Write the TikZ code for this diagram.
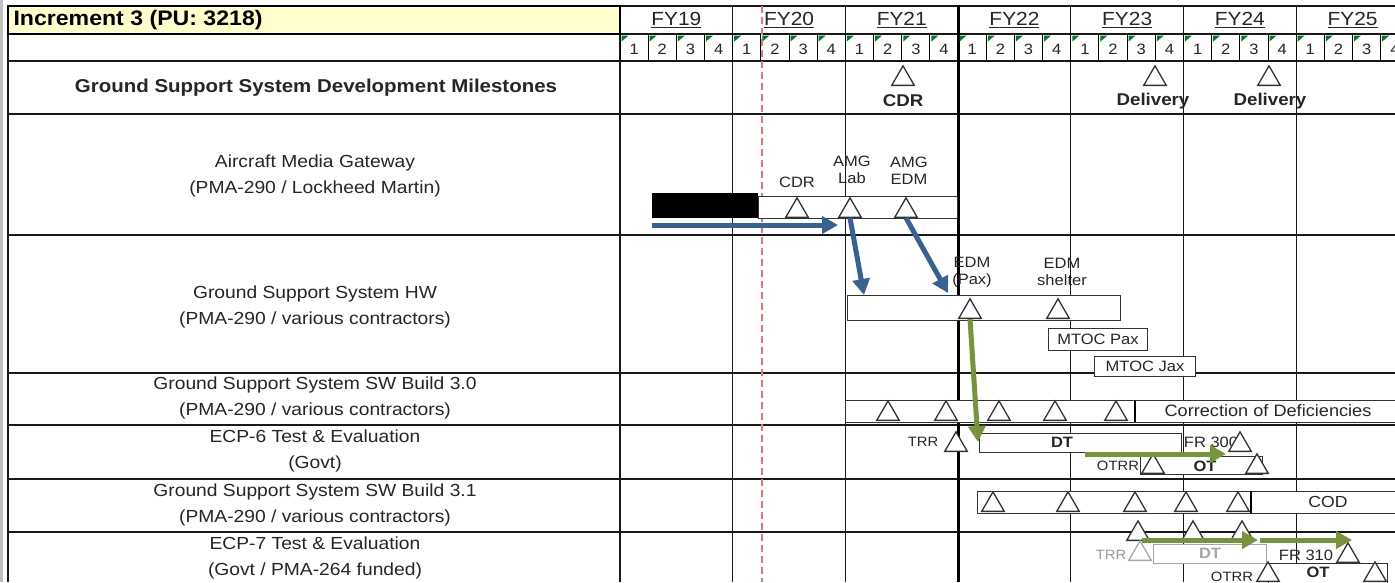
\documentclass[tikz,border=0pt]{standalone}
\usepackage{fontspec}
\setmainfont{Liberation Sans}[FakeStretch=1.1]
\usepackage{tikz}
\usetikzlibrary{arrows.meta,shapes.geometric}
\definecolor{hdrfill}{RGB}{255,255,204}
\definecolor{flowblue}{RGB}{56,98,148}
\definecolor{flowgreen}{RGB}{119,147,60}
\definecolor{today}{RGB}{232,118,118}
\definecolor{qgreen}{RGB}{0,122,40}
\definecolor{ink}{RGB}{38,38,38}

\begin{document}
\begin{tikzpicture}[x=1pt, y=-1pt,
    grid/.style={line width=1.3pt, black!90},
    ms/.style={regular polygon, regular polygon sides=3, draw=black!80, line width=1.3pt,
      fill=white, minimum size=26pt, inner sep=0pt, anchor=south},
    bar/.style={draw=black!80, line width=1.2pt, fill=white, anchor=north west, inner sep=0pt},
    lbl/.style={font=\fontsize{17.5}{26}\selectfont, text=ink, align=center},
    tag/.style={font=\fontsize{15}{17}\selectfont, text=ink, align=center, inner sep=0pt},
    bold/.style={font=\bfseries\fontsize{15}{17}\selectfont, text=ink, inner sep=0pt},
    bluearrow/.style={flowblue, line width=5pt, -{Triangle[length=16pt,width=17pt]}},
    greenarrow/.style={flowgreen, line width=5pt, -{Triangle[length=16pt,width=17pt]}}]
  \useasboundingbox (0,0) rectangle (1395,582);
  \fill[white] (0,0) rectangle (1395,582);
  \fill[black!25] (0,0) rectangle (3,582);

  % table grid
  \draw[grid] (620,6) -- (1400,6);
  \draw[grid] (620,34) -- (1400,34);
  \foreach \r in {61,114,235,373,425,479,532}
    \draw[grid] (8,\r) -- (1400,\r);
  \draw[grid] (8,6) -- (8,582);
  \draw[grid] (620,6) -- (620,582);
  \foreach \k in {1,2,4,5,6}
    \draw[grid] (620+112.7*\k,6) -- (620+112.7*\k,582);
  \draw[line width=3pt] (958,6) -- (958,582);
  \draw[line width=2.5pt, fill=hdrfill] (8,6) rectangle (620,34);
  \node[anchor=west, font=\bfseries\fontsize{21}{24}\selectfont] (incr) at (10,20) {Increment 3 (PU: 3218)};

  % fiscal years and quarters
  \foreach \k [count=\i from 0] in {19,...,25}
    \node[font=\fontsize{19}{22}\selectfont, text=ink] (fy\k) at (676.35+112.7*\i,20) {\underline{FY\k}};
  \foreach \q in {0,...,27} {
    \pgfmathtruncatemacro\qn{mod(\q,4)+1}
    \draw[line width=1pt] (620+28.175*\q,34) -- (620+28.175*\q,61);
    \fill[qgreen] (621.5+28.175*\q,35.5) -- ++(7,0) -- ++(-7,6) -- cycle;
    \node[font=\fontsize{15}{17}\selectfont, text=ink] (q\q) at (634.1+28.175*\q,49) {\qn};
  }
  \draw[today, line width=2pt, dash pattern=on 7pt off 4pt] (762,6) -- (762,582);

  % row labels
  \node[font=\bfseries\fontsize{18.6}{22}\selectfont, text=ink] (hdrMS) at (316,88) {Ground Support System Development Milestones};
  \node[lbl] (lblAMG) at (315,176) {Aircraft Media Gateway\\(PMA-290 / Lockheed Martin)};
  \node[lbl] (lblHW) at (315,307) {Ground Support System HW\\(PMA-290 / various contractors)};
  \node[lbl] (lblSW30) at (315,398) {Ground Support System SW Build 3.0\\(PMA-290 / various contractors)};
  \node[lbl] (lblECP6) at (315,451) {ECP-6 Test \& Evaluation\\(Govt)};
  \node[lbl] (lblSW31) at (315,505) {Ground Support System SW Build 3.1\\(PMA-290 / various contractors)};
  \node[lbl] (lblECP7) at (315,558) {ECP-7 Test \& Evaluation\\(Govt / PMA-264 funded)};

  % development milestones
  \node[ms] (msCDR) at (903,86) {};
  \node[ms] (msDel1) at (1155,86) {};
  \node[ms] (msDel2) at (1269,86) {};
  \node[bold, font=\bfseries\fontsize{17}{20}\selectfont] (tCDR) at (903,101) {CDR};
  \node[bold, font=\bfseries\fontsize{17}{20}\selectfont] (tDel1) at (1153,101) {Delivery};
  \node[bold, font=\bfseries\fontsize{17}{20}\selectfont] (tDel2) at (1270,101) {Delivery};

  % aircraft media gateway
  \fill[black] (652,193) rectangle (758,218);
  \node[bar, minimum width=199pt, minimum height=22pt] (amgBar) at (758,196) {};
  \node[ms] (amgCDR) at (797,218) {};
  \node[ms] (amgLab) at (850,218) {};
  \node[ms] (amgEDM) at (906,218) {};
  \node[tag] (tAmgCDR) at (797,182) {CDR};
  \node[tag] (tAmgLab) at (852,170) {AMG\\Lab};
  \node[tag] (tAmgEDM) at (909,171) {AMG\\EDM};

  % ground support hardware
  \node[bar, minimum width=273pt, minimum height=25pt] (hwBar) at (847,295) {};
  \node[ms] (hwPax) at (970,319) {};
  \node[ms] (hwShelter) at (1058,319) {};
  \node[tag] (tHwPax) at (972,272) {EDM\\(Pax)};
  \node[tag] (tHwShelter) at (1062,272) {EDM\\shelter};
  \node[tag, draw=black!80, line width=1pt, fill=white, minimum width=99pt, minimum height=22pt] (mtocPax) at (1098,339) {MTOC Pax};
  \node[tag, draw=black!80, line width=1pt, fill=white, minimum width=101pt, minimum height=20pt] (mtocJax) at (1145,366) {MTOC Jax};

  % software build 3.0
  \node[bar, minimum width=560pt, minimum height=22pt] (sw30Bar) at (845,400) {};
  \draw[line width=2.5pt] (1135,400) -- (1135,422);
  \foreach \x [count=\i] in {888,946,999,1055,1116}
    \node[ms] (sw30m\i) at (\x,421) {};
  \node[tag, font=\fontsize{16.5}{19}\selectfont] (tCoD) at (1268,411) {Correction of Deficiencies};

  % ECP-6 test and evaluation
  \node[bar, minimum width=202pt, minimum height=19pt] (dt6Bar) at (979,433) {};
  \node[ms] (trr6) at (956,452) {};
  \node[tag, font=\fontsize{13.5}{15}\selectfont] (tTrr6) at (923,442) {TRR};
  \node[bold] (tDt6) at (1062,442) {DT};
  \node[tag, font=\fontsize{15}{17}\selectfont] (tFr300) at (1211,442) {FR 300};
  \node[ms] (fr300) at (1240,452) {};
  \node[bar, minimum width=122pt, minimum height=18pt] (ot6Bar) at (1140,456) {};
  \node[ms] (otrr6) at (1153,474) {};
  \node[ms] (ot6End) at (1257,474) {};
  \node[tag, font=\fontsize{13.5}{15}\selectfont] (tOtrr6) at (1118,466) {OTRR};
  \node[bold] (tOt6) at (1205,466) {OT};

  % software build 3.1
  \node[bar, minimum width=428pt, minimum height=22pt] (sw31Bar) at (977,491) {};
  \draw[line width=2.5pt] (1251,491) -- (1251,513);
  \foreach \x [count=\i] in {993,1068,1135,1186,1238}
    \node[ms] (sw31m\i) at (\x,512) {};
  \node[tag, font=\fontsize{16}{19}\selectfont] (tCOD) at (1328,502) {COD};

  % ECP-7 test and evaluation
  \foreach \x [count=\i] in {1138,1193,1242}
    \node[ms] (ecp7m\i) at (\x,541) {};
  \node[bar, draw=black!35, minimum width=113pt, minimum height=19pt] (dt7Bar) at (1153,544) {};
  \node[ms, draw=black!35] (trr7) at (1140,561) {};
  \node[tag, font=\fontsize{13.5}{15}\selectfont, text=black!40] (tTrr7) at (1111,555) {TRR};
  \node[bold, text=black!35] (tDt7) at (1210,553) {DT};
  \node[tag, font=\fontsize{15}{17}\selectfont] (tFr310) at (1306,555) {FR 310};
  \node[ms] (fr310) at (1348,563) {};
  \node[bar, minimum width=119pt, minimum height=30pt] (ot7Bar) at (1268,563) {};
  \node[ms] (otrr7) at (1268,582) {};
  \node[ms] (ot7End) at (1375,582) {};
  \node[tag, font=\fontsize{13.5}{15}\selectfont] (tOtrr7) at (1232,577) {OTRR};
  \node[bold] (tOt7) at (1318,572) {OT};

  % hand-offs
  \coordinate (amgFrom) at (652,225);
  \coordinate (amgTo) at (838,225);
  \coordinate (hwIn1) at (864,295);
  \coordinate (hwIn2) at (948,293);
  \coordinate (dtIn) at (978,442);
  \coordinate (ot6From) at (1085,454);
  \coordinate (ot6To) at (1226,454);
  \coordinate (dt7From) at (1142,540);
  \coordinate (dt7To) at (1258,540);
  \coordinate (ot7From) at (1260,540);
  \coordinate (ot7To) at (1352,540);
  \draw[bluearrow] (amgFrom) -- (amgTo);
  \draw[bluearrow] (amgLab.south) -- (hwIn1);
  \draw[bluearrow] (amgEDM.south) -- (hwIn2);
  \draw[greenarrow] (hwPax.south) -- (dtIn);
  \draw[greenarrow] (ot6From) -- (ot6To);
  \draw[greenarrow] (dt7From) -- (dt7To);
  \draw[greenarrow] (ot7From) -- (ot7To);
\end{tikzpicture}
\end{document}
